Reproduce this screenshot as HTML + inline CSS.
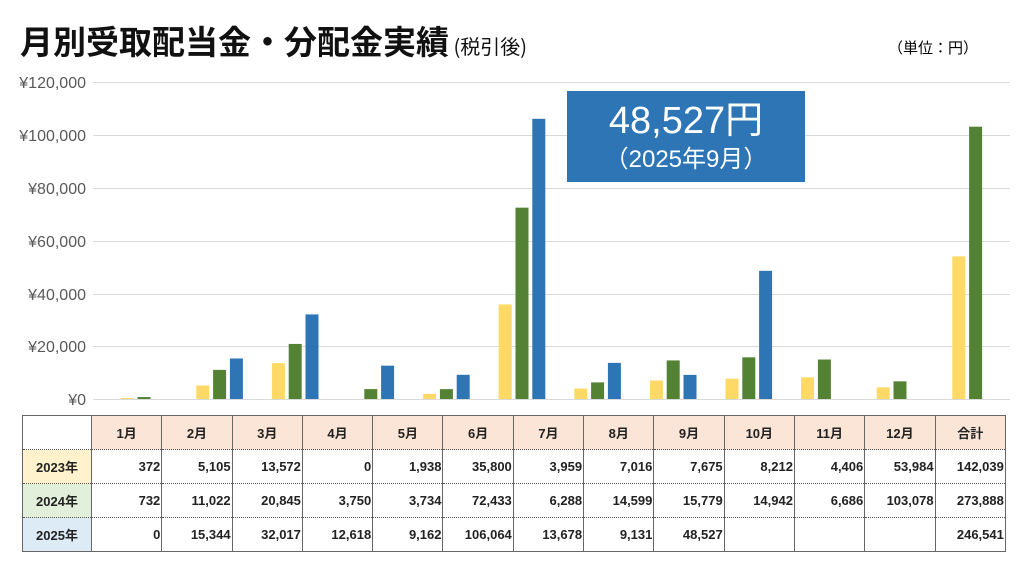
<!DOCTYPE html>
<html><head><meta charset="utf-8"><style>
body{margin:0;width:1024px;height:576px;background:#fff;position:relative;overflow:hidden;font-family:"Liberation Sans","Noto Sans CJK JP",sans-serif;}
.t{position:absolute;white-space:nowrap}
table{position:absolute;left:22px;top:415px;border-collapse:collapse;font-size:13px;font-weight:bold;color:#222;table-layout:fixed}
td{border-left:1.5px solid #666;border-right:1.5px solid #666;border-top:1px dotted #555;border-bottom:1px dotted #555;height:33px;padding:0 1px;text-align:right}
tr:first-child td{border-top:1.5px solid #666;text-align:center;background:#FBE5D6}
tr:last-child td{border-bottom:1.5px solid #666}
tr:first-child td:first-child{background:#fff}
td:first-child{text-align:center}
</style></head><body>
<div class="t" style="left:20px;top:18px;font-size:33px;font-weight:bold;color:#111;font-family:'Noto Sans CJK JP',sans-serif;line-height:44px">月別受取配当金・分配金実績<span style="font-size:20px;font-weight:normal"> (税引後)</span></div>
<div class="t" style="left:888px;top:37px;font-size:15px;font-family:'Noto Sans CJK JP',sans-serif">（単位：円）</div>
<svg width="1024" height="576" style="position:absolute;left:0;top:0">
<g stroke="#d9d9d9" stroke-width="1">
<line x1="93" x2="1010" y1="82.5" y2="82.5"/><line x1="93" x2="1010" y1="135.5" y2="135.5"/><line x1="93" x2="1010" y1="188.5" y2="188.5"/><line x1="93" x2="1010" y1="241.5" y2="241.5"/><line x1="93" x2="1010" y1="294.5" y2="294.5"/><line x1="93" x2="1010" y1="346.5" y2="346.5"/><line x1="93" x2="1010" y1="399.5" y2="399.5"/>
</g>
<g font-size="16" fill="#595959" text-anchor="end" font-family="Liberation Sans,sans-serif">
<text x="86" y="88">¥120,000</text><text x="86" y="141">¥100,000</text><text x="86" y="194">¥80,000</text><text x="86" y="247">¥60,000</text><text x="86" y="300">¥40,000</text><text x="86" y="352">¥20,000</text><text x="86" y="405">¥0</text>
</g>
<g id="bars"></g>
<rect x="567" y="91" width="238" height="91" fill="#2E75B6"/>
<text x="686" y="133" fill="#fff" font-size="38" text-anchor="middle" font-family="Liberation Sans,Noto Sans CJK JP,sans-serif">48,527円</text>
<text x="686" y="167" fill="#fff" font-size="24" text-anchor="middle" font-family="Liberation Sans,Noto Sans CJK JP,sans-serif">（2025年9月）</text>
</svg>
<script>
var d=[[372,732,0],[5105,11022,15344],[13572,20845,32017],[0,3750,12618],[1938,3734,9162],[35800,72433,106064],[3959,6288,13678],[7016,14599,9131],[7675,15779,48527],[8212,14942,0],[4406,6686,0],[53984,103078,0]];
var c=["#FFD966","#548235","#2E75B6"],s="";
d.forEach(function(g,i){var cx=144+75.6*i;g.forEach(function(v,j){if(!v)return;var h=v/120000*317;s+='<rect x="'+(cx+(j-1)*16.8-6.5)+'" y="'+(399-h)+'" width="13" height="'+h+'" fill="'+c[j]+'"/>';});});
document.getElementById("bars").innerHTML=s;
</script>
<table>
<colgroup><col style="width:69px"><col span="13" style="width:70.3px"></colgroup>
<tr><td></td><td>1月</td><td>2月</td><td>3月</td><td>4月</td><td>5月</td><td>6月</td><td>7月</td><td>8月</td><td>9月</td><td>10月</td><td>11月</td><td>12月</td><td>合計</td></tr>
<tr><td style="background:#FFF2CC">2023年</td><td>372</td><td>5,105</td><td>13,572</td><td>0</td><td>1,938</td><td>35,800</td><td>3,959</td><td>7,016</td><td>7,675</td><td>8,212</td><td>4,406</td><td>53,984</td><td>142,039</td></tr>
<tr><td style="background:#E2EFDA">2024年</td><td>732</td><td>11,022</td><td>20,845</td><td>3,750</td><td>3,734</td><td>72,433</td><td>6,288</td><td>14,599</td><td>15,779</td><td>14,942</td><td>6,686</td><td>103,078</td><td>273,888</td></tr>
<tr><td style="background:#DDEBF7">2025年</td><td>0</td><td>15,344</td><td>32,017</td><td>12,618</td><td>9,162</td><td>106,064</td><td>13,678</td><td>9,131</td><td>48,527</td><td></td><td></td><td></td><td>246,541</td></tr>
</table>
</body></html>
